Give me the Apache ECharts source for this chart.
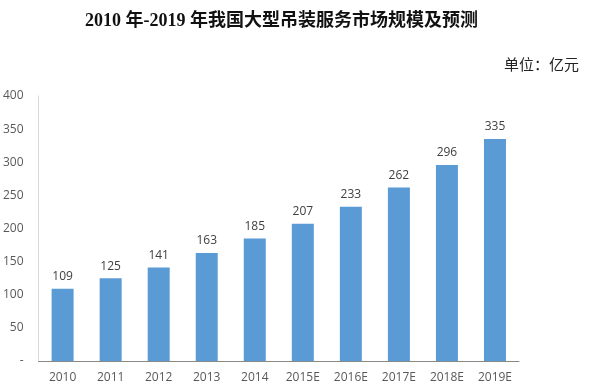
<!DOCTYPE html>
<html><head><meta charset="utf-8">
<script src="https://cdn.jsdelivr.net/npm/echarts@6/dist/echarts.min.js"></script>
<style>html,body{margin:0;padding:0;background:#fff}#c{width:589px;height:391px}</style>
</head><body><div id="c"></div>
<script>
var categories = ['2010','2011','2012','2013','2014','2015E','2016E','2017E','2018E','2019E'];
var values = [109,125,141,163,185,207,233,262,296,335];
var yTicks = [0,50,100,150,200,250,300,350,400];
var chart = echarts.init(document.getElementById('c'));
chart.setOption({
  animation:false,
  title:[{text:'2010 年-2019 年我国大型吊装服务市场规模及预测',left:80,top:7,
    textStyle:{fontFamily:'Liberation Serif, Noto Sans CJK SC',fontSize:18,fontWeight:'bold',color:'#111'}},
    {text:'单位：亿元',right:5,top:52,textStyle:{fontFamily:'Noto Sans CJK SC',fontSize:15,fontWeight:'normal',color:'#222'}}],
  grid:{left:36,right:70,top:96,bottom:30,containLabel:false},
  xAxis:{type:'category',data:categories,
    axisLine:{lineStyle:{color:'#888',width:1}},axisTick:{show:false},
    axisLabel:{color:'#595959',fontSize:12,margin:11,fontFamily:'Open Sans, Liberation Sans'}},
  yAxis:{type:'value',min:0,max:400,interval:50,
    axisLine:{show:true,lineStyle:{color:'#d9d9d9'}},axisTick:{show:false},splitLine:{show:false},
    axisLabel:{color:'#595959',fontSize:12,margin:15,fontFamily:'Open Sans, Liberation Sans',
      formatter:function(v){return v===0?'-':String(v);}}},
  series:[{type:'bar',data:values,barWidth:22,itemStyle:{color:'#5B9BD5'},
    label:{show:true,position:'top',distance:6,color:'#404040',fontSize:12,fontFamily:'Open Sans, Liberation Sans'}}]
});
</script></body></html>
